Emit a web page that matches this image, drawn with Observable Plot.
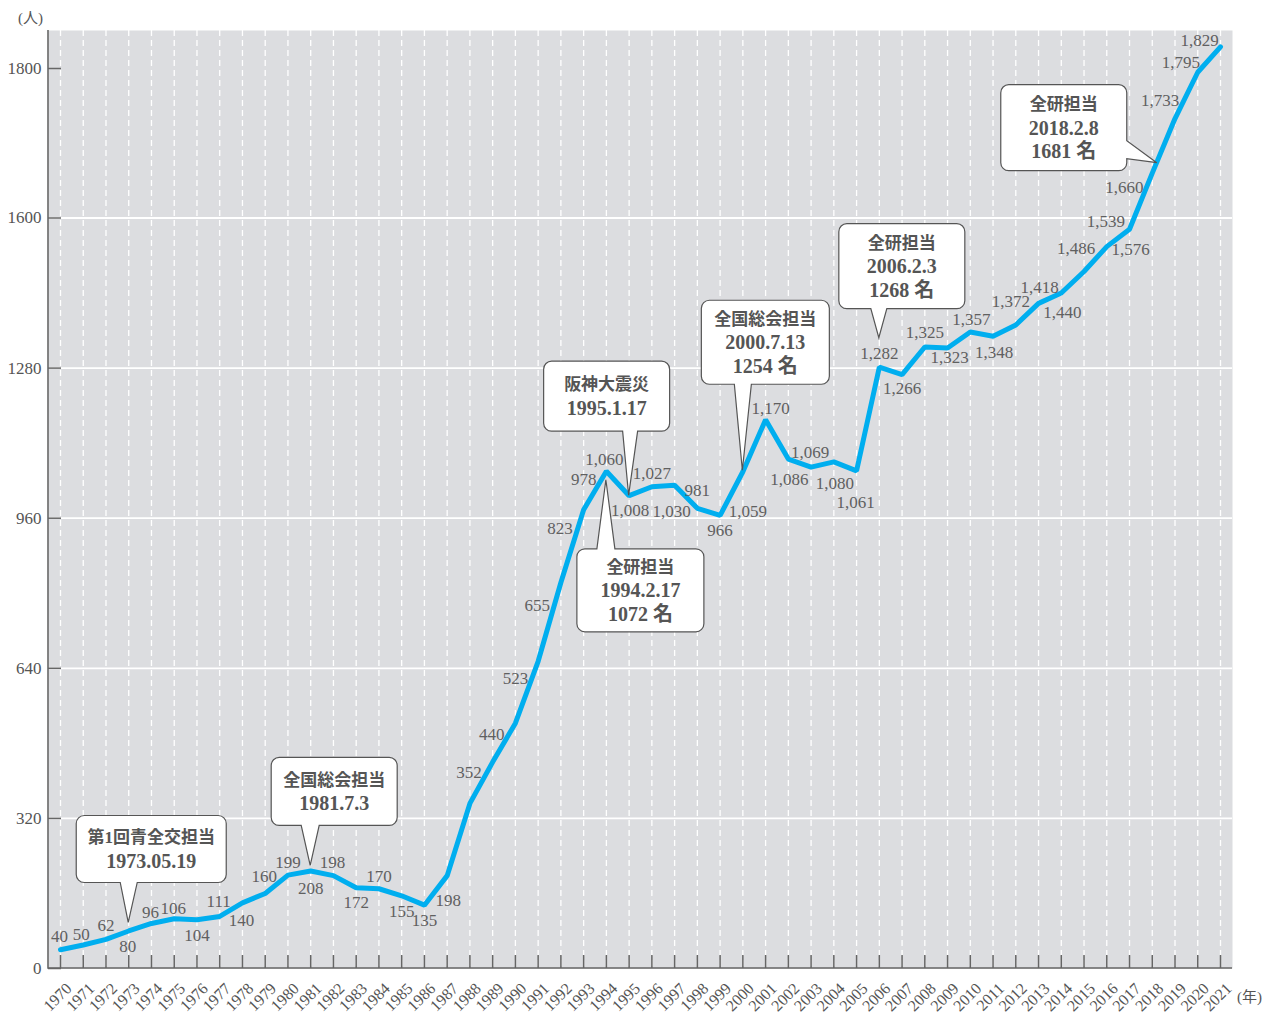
<!DOCTYPE html>
<html><head><meta charset="utf-8">
<script src="https://cdn.jsdelivr.net/npm/d3@7"></script>
<script src="https://cdn.jsdelivr.net/npm/@observablehq/plot@0.6"></script>
<style>
html,body{margin:0;padding:0;background:#fff;}
#chart{position:absolute;left:0;top:0;}
</style></head><body><div id="chart"></div>
<script>
// ---- data ----
const years = [1970,1971,1972,1973,1974,1975,1976,1977,1978,1979,1980,1981,1982,1983,1984,1985,1986,1987,1988,1989,1990,1991,1992,1993,1994,1995,1996,1997,1998,1999,2000,2001,2002,2003,2004,2005,2006,2007,2008,2009,2010,2011,2012,2013,2014,2015,2016,2017,2018,2019,2020,2021];
const members = [40,50,62,80,96,106,104,111,140,160,199,208,198,172,170,155,135,198,352,440,523,655,823,978,1060,1008,1027,1030,981,966,1059,1170,1086,1069,1080,1061,1282,1266,1325,1323,1357,1348,1372,1418,1440,1486,1539,1576,1660,1733,1795,1829];
const yTicks = [0,320,640,960,1280,1600,1800];
const yGrid = [320,640,960,1280,1600];
const calloutYears = [1973,1981,1995,1994,2000,2006,2018];
const calloutTexts = [
  ["第1回青全交担当","1973.05.19"],
  ["全国総会担当","1981.7.3"],
  ["阪神大震災","1995.1.17"],
  ["全研担当","1994.2.17","1072 名"],
  ["全国総会担当","2000.7.13","1254 名"],
  ["全研担当","2006.2.3","1268 名"],
  ["全研担当","2018.2.8","1681 名"]
];
const yUnit = "(人)";
const xUnit = "(年)";

// ---- layout (axis break above 1600, pixel offsets for labels / callouts) ----
const breakAt = 1600, topStretch = 1.5936;
const labelOffsets = [[-1,-13],[-2,-11],[0,-14],[-1,16],[-1,-11],[-1,-10],[0,16],[-1,-15],[-1,18],[-1,-17],
 [0,-13],[0,18],[-1,-13],[0,15],[0,-12],[0,16],[0,15],[1,25],[-1,-31],[-1,-28],
 [0,-45],[-1,-56],[-1,-54],[0,-30],[-2,-12],[1,15],[0,-13],[-3,26],[0,-18],[0,15],
 [5,40],[5,-11],[1,20],[-1,-15],[1,22],[-1,32],[0,-14],[0,14],[0,-14],[2,10],
 [1,-12],[1,16],[-5,-23],[1,-16],[1,19],[-8,-23],[-1,-25],[1,20],[-28,14],[-15,-18],
 [-17,-10],[-21,-6]];
const calloutLayout = [
  {tip:[0,-8],  box:[-52,-107,150,67], side:"bottom", base:[-8,9]},
  {tip:[0,-5],  box:[-39,-108,126,68], side:"bottom", base:[-9,9]},
  {tip:[0,0],   box:[-85,-134,126,70], side:"bottom", base:[-6,9]},
  {tip:[0,9],   box:[-29,69,127,83],   side:"top",    base:[-9,9]},
  {tip:[0,-1],  box:[-41,-170,128,84], side:"bottom", base:[-8,9]},
  {tip:[0,-29], box:[-40,-114,126,85], side:"bottom", base:[-8,8]},
  {tip:[5,-10], box:[-156,-78,126,86], side:"right",  base:[-22,-4]}
];

const rows = years.map((year, i) => ({year, value: members[i]}));
const fmt = d3.format(",");
const INK = "#555";
const FONT = "'Liberation Serif','Noto Sans CJK JP',serif";
const yTransform = v => v <= breakAt ? v : breakAt + (v - breakAt) * topStretch;

function calloutPath(L, T, W, H, r, side, b0, b1, tx, ty) {
  const R = L + W, B = T + H;
  let d = `M${L+r},${T}`;
  if (side === "top") d += `H${b0}L${tx},${ty}L${b1},${T}`;
  d += `H${R-r}A${r},${r} 0 0 1 ${R},${T+r}`;
  if (side === "right") d += `V${b0}L${tx},${ty}L${R},${b1}`;
  d += `V${B-r}A${r},${r} 0 0 1 ${R-r},${B}`;
  if (side === "bottom") d += `H${b1}L${tx},${ty}L${b0},${B}`;
  d += `H${L+r}A${r},${r} 0 0 1 ${L},${B-r}V${T+r}A${r},${r} 0 0 1 ${L+r},${T}Z`;
  return d;
}

function callouts(index, scales) {
  const g = d3.create("svg:g");
  calloutYears.forEach((yr, i) => {
    const lay = calloutLayout[i];
    const v = members[years.indexOf(yr)];
    const tx = scales.x(yr) + lay.tip[0], ty = scales.y(yTransform(v)) + lay.tip[1];
    const [bx, by, W, H] = lay.box;
    const L = tx + bx, T = ty + by;
    let b0, b1;
    if (lay.side === "right") { b0 = ty + lay.base[0]; b1 = ty + lay.base[1]; }
    else { b0 = tx + lay.base[0]; b1 = tx + lay.base[1]; }
    g.append("path")
      .attr("d", calloutPath(L, T, W, H, 8, lay.side, b0, b1, tx, ty))
      .attr("fill", "#fff").attr("stroke", INK).attr("stroke-width", 1.2);
    const lines = calloutTexts[i];
    const sp = 23.5;
    const cy = T + H / 2 - (lines.length - 1) * sp / 2;
    lines.forEach((t, j) => {
      g.append("text")
        .attr("x", L + W / 2).attr("y", cy + j * sp)
        .attr("dy", "0.35em")
        .attr("text-anchor", "middle")
        .attr("font-family", FONT)
        .attr("font-weight", "bold")
        .attr("font-size", j === 0 ? 17 : 20)
        .attr("fill", INK)
        .text(t);
    });
  });
  return g.node();
}

function axisLines(index, scales, values, dims) {
  const {width, height, marginLeft, marginTop, marginRight, marginBottom} = dims;
  return d3.create("svg:path")
    .attr("d", `M${marginLeft},${marginTop}V${height - marginBottom}H${width - marginRight}`)
    .attr("fill", "none").attr("stroke", "#666").attr("stroke-width", 1.6)
    .node();
}

const labelMarks = rows.map((d, i) => Plot.text([d], {
  x: "year", y: "value", text: r => fmt(r.value),
  dx: labelOffsets[i][0], dy: labelOffsets[i][1],
  fontSize: 17, fill: "#606060", fontFamily: FONT
}));

const chart = Plot.plot({
  width: 1270, height: 1012,
  marginLeft: 48, marginRight: 38, marginTop: 30, marginBottom: 44,
  style: {fontFamily: FONT, background: "transparent", overflow: "visible"},
  x: {domain: [1970, 2021], range: [60, 1220], label: null},
  y: {transform: yTransform, domain: [0, 1600], range: [968, 217.5], label: null},
  marks: [
    Plot.frame({fill: "#dcdde0", stroke: "none"}),
    Plot.ruleX(years, {stroke: "#fff", strokeWidth: 1.3, strokeDasharray: "6,4"}),
    Plot.ruleY(yGrid, {stroke: "#fff", strokeWidth: 1.8}),
    Plot.axisX(years, {tickSize: -13, tickFormat: () => "", stroke: "#666", strokeWidth: 1.5, label: null}),
    Plot.axisX(years, {tickSize: 0, tickPadding: 13, tickRotate: -45, dx: 4, textAnchor: "end", lineAnchor: "top",
      tickFormat: d => String(d), fontSize: 16, fill: INK, label: null}),
    Plot.axisY(yTicks, {tickSize: -13, tickPadding: 20, stroke: "#666", strokeWidth: 1.5,
      tickFormat: d => String(d), fontSize: 17, fill: INK, label: null}),
    axisLines,
    Plot.line(rows, {x: "year", y: "value", stroke: "#00aeef", strokeWidth: 5, strokeLinejoin: "miter"}),
    ...labelMarks,
    callouts,
    Plot.text([yUnit], {text: d => d, frameAnchor: "top-left", textAnchor: "middle", lineAnchor: "middle",
      dx: -18, dy: -12, fontSize: 15, fill: INK}),
    Plot.text([xUnit], {text: d => d, frameAnchor: "bottom-right", textAnchor: "middle", lineAnchor: "middle",
      dx: 17, dy: 29, fontSize: 15, fill: INK})
  ]
});
document.getElementById("chart").appendChild(chart);
</script>
</body></html>
